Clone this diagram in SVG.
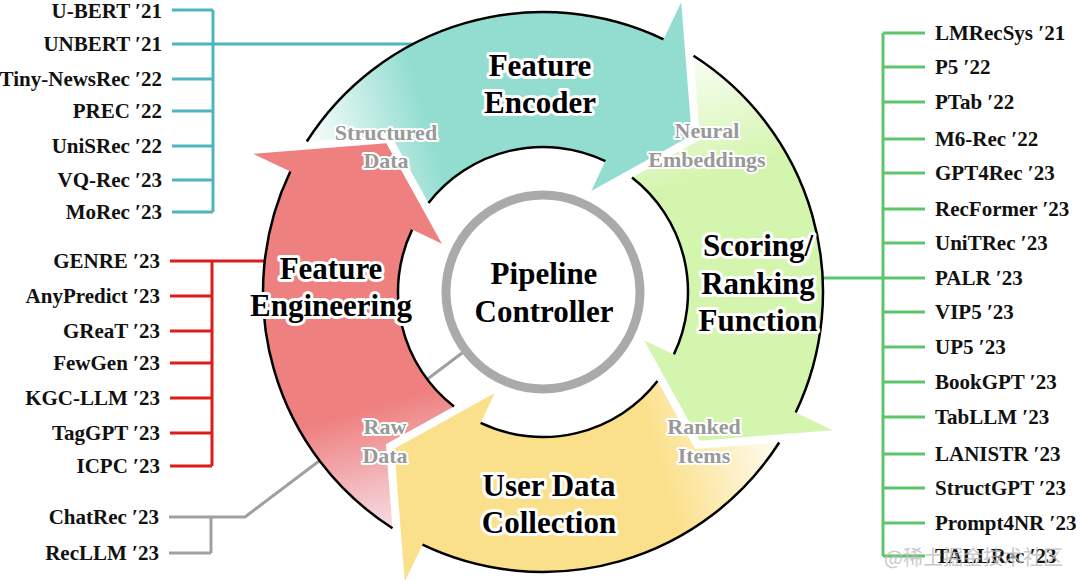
<svg xmlns="http://www.w3.org/2000/svg" width="1080" height="580" viewBox="0 0 1080 580">
<defs>
  <linearGradient id="gTeal" gradientUnits="userSpaceOnUse" x1="-238" y1="-142" x2="-118" y2="-177">
    <stop offset="0" stop-color="#ffffff"/><stop offset="1" stop-color="#93ddd0"/>
  </linearGradient>
  <linearGradient id="gGreen" gradientUnits="userSpaceOnUse" x1="-238" y1="-142" x2="-118" y2="-177">
    <stop offset="0" stop-color="#fbfef7"/><stop offset="1" stop-color="#d4f5ae"/>
  </linearGradient>
  <linearGradient id="gYellow" gradientUnits="userSpaceOnUse" x1="-238" y1="-142" x2="-118" y2="-177">
    <stop offset="0" stop-color="#fffdf6"/><stop offset="1" stop-color="#fbe08c"/>
  </linearGradient>
  <linearGradient id="gRed" gradientUnits="userSpaceOnUse" x1="-238" y1="-142" x2="-118" y2="-177">
    <stop offset="0" stop-color="#f5e2e8"/><stop offset="1" stop-color="#ef8080"/>
  </linearGradient>
  <path id="arrowBody" d="M -236.2 -150.5 A 280 280 0 0 1 120.5 -252.7 L 138.2 -289.7 L 148.7 -156.7 L 48.2 -101.1 L 62.4 -130.9 A 145 145 0 0 0 -114.5 -89.0 L -152.2 -157.1 Z"/>
  <path id="arrowEdges" d="M -236.2 -150.5 A 280 280 0 0 1 120.5 -252.7 M 62.4 -130.9 A 145 145 0 0 0 -114.5 -89.0"/>
</defs>
<style>
  .ref{font-family:"Liberation Serif","Times New Roman",serif;font-weight:bold;font-size:21px;fill:#111}
  .l{text-anchor:end}
  .big{font-family:"Liberation Serif","Times New Roman",serif;font-weight:bold;font-size:31px;fill:#000;stroke:#fff;stroke-width:6;stroke-linejoin:round;paint-order:stroke;text-anchor:middle}
  .flow{font-family:"Liberation Serif","Times New Roman",serif;font-weight:bold;font-size:22px;fill:#999;stroke:#fff;stroke-width:4;stroke-linejoin:round;paint-order:stroke;text-anchor:middle}
  .edge{fill:none;stroke:#000;stroke-width:2.5}
  .cn{fill:none;stroke-width:3}
  .wm{font-family:"Noto Sans CJK SC","Liberation Sans",sans-serif;font-size:20px;fill:#bdbdbd;opacity:0.8}
</style>
<rect width="1080" height="580" fill="#ffffff"/>

<g id="connectors">
  <path class="cn" stroke="#4fb5bd" d="M213 10V212 M172 10H213 M172 44H413 M172 79H213 M172 111H213 M172 146H213 M172 180H213 M172 212H213"/>
  <path class="cn" stroke="#dd1c1c" d="M212 261V466 M170 261H265 M170 296H212 M170 331H212 M170 363H212 M170 398H212 M170 433H212 M170 466H212"/>
  <path class="cn" stroke="#a0a0a0" d="M211 517V553 M169 553H211 M169 517H245 L466 350"/>
  <path class="cn" stroke="#5ec46b" d="M883 33V556 M823 278H883 M883 33H925 M883 67H925 M883 102H925 M883 139H925 M883 173H925 M883 209H925 M883 243H925 M883 278H925 M883 312H925 M883 347H925 M883 382H925 M883 417H925 M883 454H925 M883 488H925 M883 523H925 M883 556H925"/>
</g>

<g id="feature-encoder">
  <g transform="translate(543,292)">
    <use href="#arrowBody" fill="url(#gTeal)"/>
    <use href="#arrowEdges" class="edge"/>
  </g>
  <text class="big" x="540" y="76">Feature</text>
  <text class="big" x="540" y="113">Encoder</text>
</g>

<g id="scoring-ranking">
  <g transform="translate(543,292) rotate(90)">
    <use href="#arrowBody" fill="url(#gGreen)"/>
    <use href="#arrowEdges" class="edge"/>
  </g>
  <text class="big" x="758" y="256">Scoring/</text>
  <text class="big" x="758" y="294">Ranking</text>
  <text class="big" x="758" y="331">Function</text>
</g>

<g id="user-data-collection">
  <g transform="translate(543,292) rotate(180)">
    <use href="#arrowBody" fill="url(#gYellow)"/>
    <use href="#arrowEdges" class="edge"/>
  </g>
  <text class="big" x="549" y="496">User Data</text>
  <text class="big" x="549" y="533">Collection</text>
</g>

<g id="feature-engineering">
  <g transform="translate(543,292) rotate(270)">
    <use href="#arrowBody" fill="url(#gRed)"/>
    <use href="#arrowEdges" class="edge"/>
  </g>
  <text class="big" x="331" y="279">Feature</text>
  <text class="big" x="331" y="316">Engineering</text>
</g>

<g id="pipeline-controller">
  <circle cx="543" cy="292" r="97" fill="#ffffff" stroke="#aaaaaa" stroke-width="9"/>
  <text class="big" x="544" y="284">Pipeline</text>
  <text class="big" x="544" y="322">Controller</text>
</g>

<g id="flow-labels">
  <text class="flow" x="386" y="140">Structured</text>
  <text class="flow" x="386" y="168">Data</text>
  <text class="flow" x="707" y="138">Neural</text>
  <text class="flow" x="707" y="167">Embeddings</text>
  <text class="flow" x="385" y="434">Raw</text>
  <text class="flow" x="385" y="463">Data</text>
  <text class="flow" x="704" y="434">Ranked</text>
  <text class="flow" x="704" y="463">Items</text>
</g>

<g id="list-encoder">
  <text class="ref l" x="162" y="18">U-BERT ′21</text>
  <text class="ref l" x="162" y="51">UNBERT  ′21</text>
  <text class="ref l" x="162" y="86">Tiny-NewsRec ′22</text>
  <text class="ref l" x="162" y="118">PREC ′22</text>
  <text class="ref l" x="162" y="153">UniSRec ′22</text>
  <text class="ref l" x="162" y="187">VQ-Rec ′23</text>
  <text class="ref l" x="162" y="219">MoRec ′23</text>
</g>

<g id="list-engineering">
  <text class="ref l" x="160" y="268">GENRE ′23</text>
  <text class="ref l" x="160" y="303">AnyPredict ′23</text>
  <text class="ref l" x="160" y="338">GReaT ′23</text>
  <text class="ref l" x="160" y="370">FewGen ′23</text>
  <text class="ref l" x="160" y="405">KGC-LLM ′23</text>
  <text class="ref l" x="160" y="440">TagGPT ′23</text>
  <text class="ref l" x="160" y="473">ICPC ′23</text>
</g>

<g id="list-collection">
  <text class="ref l" x="159" y="524">ChatRec ′23</text>
  <text class="ref l" x="159" y="560">RecLLM ′23</text>
</g>

<g id="list-scoring">
  <text class="ref" x="935" y="40">LMRecSys ′21</text>
  <text class="ref" x="935" y="74">P5 ′22</text>
  <text class="ref" x="935" y="109">PTab ′22</text>
  <text class="ref" x="935" y="146">M6-Rec ′22</text>
  <text class="ref" x="935" y="180">GPT4Rec ′23</text>
  <text class="ref" x="935" y="216">RecFormer ′23</text>
  <text class="ref" x="935" y="250">UniTRec ′23</text>
  <text class="ref" x="935" y="285">PALR ′23</text>
  <text class="ref" x="935" y="319">VIP5 ′23</text>
  <text class="ref" x="935" y="354">UP5 ′23</text>
  <text class="ref" x="935" y="389">BookGPT ′23</text>
  <text class="ref" x="935" y="424">TabLLM ′23</text>
  <text class="ref" x="935" y="461">LANISTR ′23</text>
  <text class="ref" x="935" y="495">StructGPT ′23</text>
  <text class="ref" x="935" y="530">Prompt4NR ′23</text>
  <text class="ref" x="935" y="563">TALLRec ′23</text>
</g>

<text class="wm" x="884" y="565">@稀土掘金技术社区</text>
</svg>
